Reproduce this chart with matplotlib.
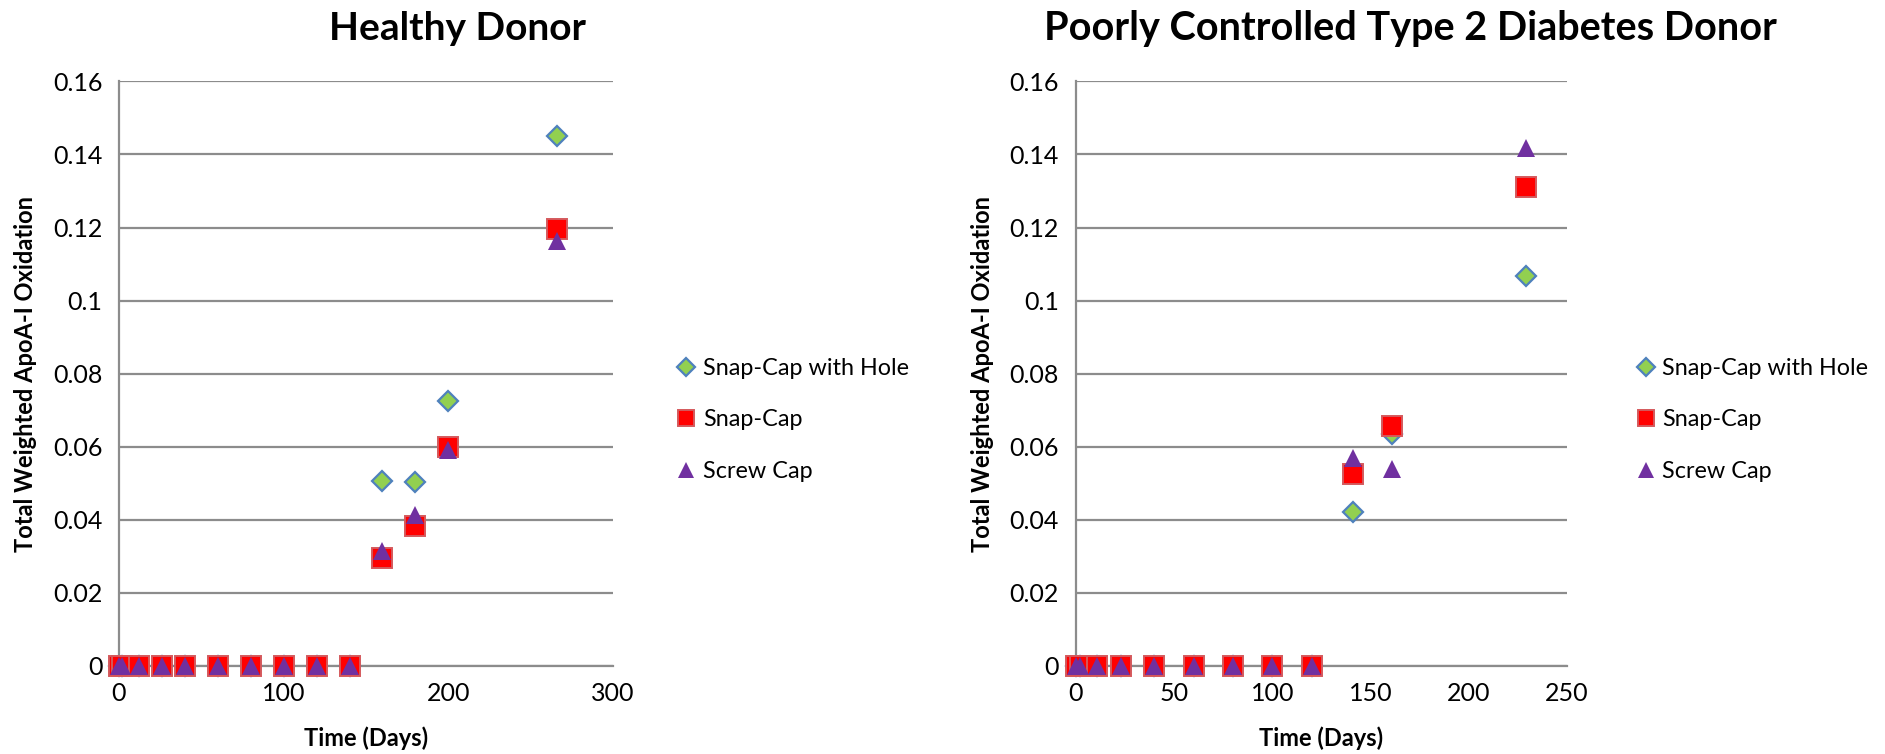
import matplotlib.pyplot as plt
from matplotlib.ticker import MultipleLocator

plt.rcParams['font.family'] = ['Lato', 'DejaVu Sans']

# Healthy donor: sampling days and oxidation per cap type
healthy_days = [0, 2, 12, 26, 40, 60, 80, 100, 120, 140, 160, 180, 200, 266]
healthy_hole = [0, 0, 0, 0, 0, 0, 0, 0, 0, 0, 0.0506, 0.0503, 0.0725, 0.1451]
healthy_snap = [0, 0, 0, 0, 0, 0, 0, 0, 0, 0, 0.0296, 0.0384, 0.0599, 0.1195]
healthy_screw = [0, 0, 0, 0, 0, 0, 0, 0, 0, 0, 0.0315, 0.0413, 0.0592, 0.1163]

# Poorly controlled type 2 diabetes donor
diabetes_days = [0, 2, 11, 23, 40, 60, 80, 100, 120, 141, 161, 229]
diabetes_hole = [0, 0, 0, 0, 0, 0, 0, 0, 0, 0.0421, 0.0636, 0.1067]
diabetes_snap = [0, 0, 0, 0, 0, 0, 0, 0, 0, 0.0526, 0.0656, 0.1310]
diabetes_screw = [0, 0, 0, 0, 0, 0, 0, 0, 0, 0.0570, 0.0540, 0.1419]

series_labels = ['Snap-Cap with Hole', 'Snap-Cap', 'Screw Cap']
titles = ['Healthy Donor', 'Poorly Controlled Type 2 Diabetes Donor']

GRID = '#8c8c8c'

fig = plt.figure(figsize=(18.85, 7.54), dpi=100)
ax1 = fig.add_axes([0.0631, 0.117, 0.2621, 0.775])
ax2 = fig.add_axes([0.5707, 0.117, 0.2606, 0.775])


def draw_panel(ax, days, hole, snap, screw, xmax, xstep):
    h1, = ax.plot(days, hole, linestyle='none', marker='D', ms=10.5,
                  mfc='#92D050', mec='#4F81BD', mew=1.6, zorder=3)
    h2, = ax.plot(days, snap, linestyle='none', marker='s', ms=14,
                  mfc='#FF0000', mec='#D4595C', mew=1.4, zorder=4)
    h3, = ax.plot(days, screw, linestyle='none', marker='^', ms=13.5,
                  mfc='#7030A0', mec='#7030A0', mew=0, zorder=5)
    ax.set_xlim(0, xmax)
    ax.set_ylim(0, 0.16)
    ax.xaxis.set_major_locator(MultipleLocator(xstep))
    ax.yaxis.set_major_locator(MultipleLocator(0.02))
    ax.yaxis.set_major_formatter(plt.FuncFormatter(lambda v, p: '0' if v == 0 else f'{v:g}'))
    ax.grid(axis='y', color=GRID, linewidth=1.6)
    ax.set_axisbelow(True)
    for side in ['top', 'right']:
        ax.spines[side].set_visible(False)
    for side in ['left', 'bottom']:
        ax.spines[side].set_color(GRID)
        ax.spines[side].set_linewidth(1.6)
    ax.tick_params(length=0, labelsize=18, pad=12)
    ax.set_xlabel('Time (Days)', fontsize=17, fontweight='bold', labelpad=15)
    ax.set_ylabel('Total Weighted ApoA-I Oxidation', fontsize=17,
                  fontweight='bold', labelpad=11)
    for c in ax.lines:
        c.set_clip_on(False)
    return [h1, h2, h3]


handles1 = draw_panel(ax1, healthy_days, healthy_hole, healthy_snap, healthy_screw, 300, 100)
handles2 = draw_panel(ax2, diabetes_days, diabetes_hole, diabetes_snap, diabetes_screw, 250, 50)

for handles, x in [(handles1, 0.353), (handles2, 0.862)]:
    fig.legend(handles, series_labels, loc='center left', bbox_to_anchor=(x, 0.443),
               frameon=False, fontsize=16.8, handlelength=0.8, handletextpad=0.3,
               labelspacing=1.3, borderpad=0, markerscale=0.85)

fig.text(0.2425, 0.962, titles[0], ha='center', va='center', fontsize=28, fontweight='bold')
fig.text(0.7485, 0.962, titles[1], ha='center', va='center', fontsize=28.5, fontweight='bold')

fig.savefig('out.png', dpi=100, facecolor='white')
